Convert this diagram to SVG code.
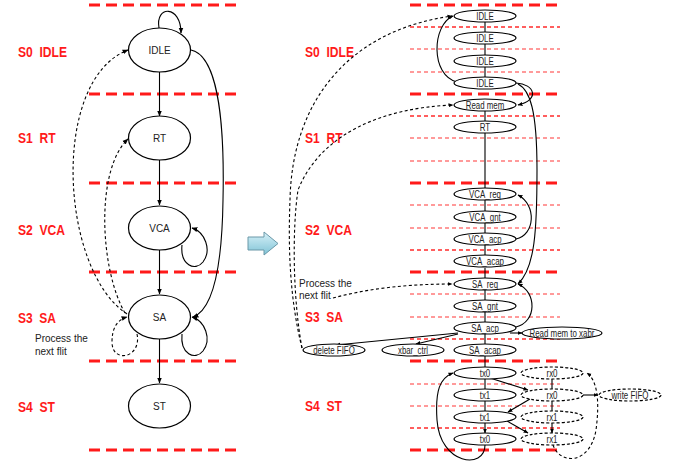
<svg xmlns="http://www.w3.org/2000/svg" width="674" height="462" viewBox="0 0 674 462">
<defs>
<marker id="ah" viewBox="0 0 10 10" refX="9" refY="5" markerWidth="6" markerHeight="6" orient="auto" markerUnits="userSpaceOnUse"><path d="M0,1 L10,5 L0,9 z" fill="#000"/></marker>
<marker id="as" viewBox="0 0 10 10" refX="9" refY="5" markerWidth="5" markerHeight="5" orient="auto" markerUnits="userSpaceOnUse"><path d="M0,1 L10,5 L0,9 z" fill="#000"/></marker>
<linearGradient id="bg" x1="0" y1="0" x2="0" y2="1"><stop offset="0" stop-color="#d8f1f8"/><stop offset="1" stop-color="#7fc3d6"/></linearGradient>
</defs>
<style>
.thick{stroke:#ff1a1a;stroke-width:3;stroke-dasharray:11 6;fill:none}
.thinr{stroke:#ff2a2a;stroke-width:1.3;stroke-dasharray:4 3;fill:none}
.thinp{stroke:#ff7a7a;stroke-width:1.3;stroke-dasharray:4 3;fill:none}
.lab{font-family:"Liberation Sans",Arial,sans-serif;font-size:14px;font-weight:bold;fill:#ff1a1a;white-space:pre}
.big{fill:#fff;stroke:#000;stroke-width:1.2}
.bt{font-family:"Liberation Sans",Arial,sans-serif;font-size:10px;fill:#222;text-anchor:middle}
.sm{fill:#fff;stroke:#000;stroke-width:1.2}
.smd{fill:#fff;stroke:#000;stroke-width:1.2;stroke-dasharray:3 2}
.st{font-family:"Liberation Sans",Arial,sans-serif;font-size:10px;fill:#222;text-anchor:middle}
.note{font-family:"Liberation Sans",Arial,sans-serif;font-size:10px;fill:#222}
.cl{fill:none;stroke:#000;stroke-width:1.1;marker-end:url(#ah)}
.cs{fill:none;stroke:#000;stroke-width:1.1;marker-end:url(#as)}
.dl{fill:none;stroke:#000;stroke-width:1.1;stroke-dasharray:3 2.5;marker-end:url(#ah)}
.ds{fill:none;stroke:#000;stroke-width:1.1;stroke-dasharray:3 2.5;marker-end:url(#as)}
</style>
<rect width="674" height="462" fill="#fff"/>

<g id="stage-lines">
<path class="thick" d="M89,5H240M89,94H240M89,183H240M89,272H240M89,361H240M89,450H240"/>
<path class="thick" d="M410,5H560M410,94H560M410,183H560M410,272H560M410,361H560M410,450H560"/>
<path class="thinr" d="M410,27H560M410,116H560M410,250H560M410,339H560M410,428H560"/>
<path class="thinp" d="M410,49H560M410,72H560M410,138H560M410,161H560M410,205H560M410,228H560M410,294H560M410,317H560M410,384H560M410,406H560"/>
</g>

<g id="stage-labels">
<text class="lab" x="18" y="57" xml:space="preserve" textLength="49" lengthAdjust="spacingAndGlyphs">S0  IDLE</text>
<text class="lab" x="18" y="143" xml:space="preserve" textLength="37.5" lengthAdjust="spacingAndGlyphs">S1  RT</text>
<text class="lab" x="18" y="235" xml:space="preserve" textLength="47" lengthAdjust="spacingAndGlyphs">S2  VCA</text>
<text class="lab" x="18" y="323" xml:space="preserve" textLength="38" lengthAdjust="spacingAndGlyphs">S3  SA</text>
<text class="lab" x="18" y="412" xml:space="preserve" textLength="37" lengthAdjust="spacingAndGlyphs">S4  ST</text>
<text class="lab" x="305" y="57" xml:space="preserve" textLength="49" lengthAdjust="spacingAndGlyphs">S0  IDLE</text>
<text class="lab" x="305" y="143" xml:space="preserve" textLength="37.5" lengthAdjust="spacingAndGlyphs">S1  RT</text>
<text class="lab" x="305" y="235" xml:space="preserve" textLength="47" lengthAdjust="spacingAndGlyphs">S2  VCA</text>
<text class="lab" x="305" y="322" xml:space="preserve" textLength="38" lengthAdjust="spacingAndGlyphs">S3  SA</text>
<text class="lab" x="305" y="411" xml:space="preserve" textLength="37" lengthAdjust="spacingAndGlyphs">S4  ST</text>
</g>

<g id="connectors">
<path class="cl" d="M159,28 C155,5 181,5 181,33"/>
<path class="cl" d="M159.5,72 L159.5,116"/>
<path class="cl" d="M159.5,160 L159.5,205"/>
<path class="cl" d="M159.5,250 L159.5,294"/>
<path class="cl" d="M159.5,339 L159.5,383"/>
<path class="cl" d="M182,245 C180,265 195,272 203,262 C212,250 205,232 192,228"/>
<path class="cl" d="M182,334 C180,354 195,361 203,351 C212,339 205,321 192,317"/>
<path class="cl" d="M191,50 C215,55 225,110 223,200 C222,270 212,310 193,317"/>
<path class="dl" d="M127,314 C60,270 50,80 128,50"/>
<path class="dl" d="M125,313 C100,270 95,170 128,139"/>
<path class="dl" d="M137,334 C142,358 112,364 112,342 C112,328 117,320 127,317"/>
<path class="cs" d="M485,22 L485,32M485,44 L485,55M485,67 L485,77M485,111 L485,121M485,133 L485,188M485,200 L485,211M485,223 L485,233M485,245 L485,255M485,268 L485,278M485,290 L485,300M485,312 L485,322M485,334 L485,344M485,356 L485,367M485,379 L485,389M485,401 L485,411M485,423 L485,433"/>
<path class="cs" d="M552,379 L552,389M552,401 L552,411M552,423 L552,433"/>
<path class="cs" d="M457,82 C430,75 432,25 453,16"/>
<path class="cs" d="M516,83 C535,84 540,100 518,105"/>
<path class="cs" d="M518,84 C530,90 537,110 537,170 C537,230 535,268 518,284"/>
<path class="cs" d="M516,239 C535,235 537,205 518,195"/>
<path class="cs" d="M516,327 C537,322 537,292 518,284"/>
<path class="cs" d="M458,333 L336,345"/>
<path class="cs" d="M458,334 L416,344"/>
<path class="cs" d="M510,333 L522,333"/>
<path class="ds" d="M333,298 C370,288 410,284 452,284"/>
<path class="ds" d="M302,348 C290,300 288,250 290,200 C292,100 350,30 452,16"/>
<path class="ds" d="M302,348 C293,300 292,230 298,190 C320,135 380,108 453,105"/>
<path class="cs" d="M490,378 L528,390"/>
<path class="cs" d="M530,399 L508,412"/>
<path class="cs" d="M507,421 L528,433"/>
<path class="cs" d="M583,395 L598,395" stroke-width="1.6"/>
<path class="ds" d="M553,445 C560,465 590,465 596,430 C600,400 597,380 587,373"/>
<path class="cs" d="M485,445 C485,470 440,465 437,420 C435,390 440,378 453,373"/>
</g>

<g id="n-idle"><ellipse class="big" cx="159.5" cy="50" rx="31" ry="22"/><text class="bt" x="159.5" y="53.5">IDLE</text></g>
<g id="n-rt"><ellipse class="big" cx="159.5" cy="138" rx="31" ry="22"/><text class="bt" x="159.5" y="141.5">RT</text></g>
<g id="n-vca"><ellipse class="big" cx="159.5" cy="228" rx="31" ry="22"/><text class="bt" x="159.5" y="231.5">VCA</text></g>
<g id="n-sa"><ellipse class="big" cx="159.5" cy="317" rx="31" ry="22"/><text class="bt" x="159.5" y="320.5">SA</text></g>
<g id="n-st"><ellipse class="big" cx="159.5" cy="406" rx="31" ry="22"/><text class="bt" x="159.5" y="409.5">ST</text></g>
<g id="note-left"><text class="note" x="35" y="342">Process the</text><text class="note" x="35" y="355">next flit</text></g>

<g id="transition-arrow"><path d="M248,237 L264,237 L264,232 L278,243.5 L264,255 L264,250 L248,250 Z" fill="url(#bg)" stroke="#6a98a8" stroke-width="1"/></g>

<g id="r-idle1"><ellipse class="sm" cx="485" cy="16" rx="31" ry="6"/><text class="st" x="485" y="19.5" textLength="17.5" lengthAdjust="spacingAndGlyphs">IDLE</text></g>
<g id="r-idle2"><ellipse class="sm" cx="485" cy="38" rx="31" ry="6"/><text class="st" x="485" y="41.5" textLength="17.5" lengthAdjust="spacingAndGlyphs">IDLE</text></g>
<g id="r-idle3"><ellipse class="sm" cx="485" cy="61" rx="31" ry="6"/><text class="st" x="485" y="64.5" textLength="17.5" lengthAdjust="spacingAndGlyphs">IDLE</text></g>
<g id="r-idle4"><ellipse class="sm" cx="485" cy="83" rx="31" ry="6"/><text class="st" x="485" y="86.5" textLength="17.5" lengthAdjust="spacingAndGlyphs">IDLE</text></g>
<g id="r-readmem"><ellipse class="sm" cx="485" cy="105" rx="31" ry="6"/><text class="st" x="485" y="108.5" textLength="38.5" lengthAdjust="spacingAndGlyphs">Read mem</text></g>
<g id="r-rt"><ellipse class="sm" cx="485" cy="127" rx="31" ry="6"/><text class="st" x="485" y="130.5" textLength="10.5" lengthAdjust="spacingAndGlyphs">RT</text></g>
<g id="r-vcareq"><ellipse class="sm" cx="485" cy="194" rx="31" ry="6"/><text class="st" x="485" y="197.5" textLength="32" lengthAdjust="spacingAndGlyphs">VCA_req</text></g>
<g id="r-vcagnt"><ellipse class="sm" cx="485" cy="217" rx="31" ry="6"/><text class="st" x="485" y="220.5" textLength="31.5" lengthAdjust="spacingAndGlyphs">VCA_gnt</text></g>
<g id="r-vcaacp"><ellipse class="sm" cx="485" cy="239" rx="31" ry="6"/><text class="st" x="485" y="242.5" textLength="33" lengthAdjust="spacingAndGlyphs">VCA_acp</text></g>
<g id="r-vcaacap"><ellipse class="sm" cx="485" cy="261" rx="31" ry="6"/><text class="st" x="485" y="264.5" textLength="38" lengthAdjust="spacingAndGlyphs">VCA_acap</text></g>
<g id="r-sareq"><ellipse class="sm" cx="485" cy="284" rx="31" ry="6"/><text class="st" x="485" y="287.5" textLength="26" lengthAdjust="spacingAndGlyphs">SA_req</text></g>
<g id="r-sagnt"><ellipse class="sm" cx="485" cy="306" rx="31" ry="6"/><text class="st" x="485" y="309.5" textLength="26" lengthAdjust="spacingAndGlyphs">SA_gnt</text></g>
<g id="r-saacp"><ellipse class="sm" cx="485" cy="328" rx="31" ry="6"/><text class="st" x="485" y="331.5" textLength="27.5" lengthAdjust="spacingAndGlyphs">SA_acp</text></g>
<g id="r-saacap"><ellipse class="sm" cx="485" cy="350" rx="31" ry="6"/><text class="st" x="485" y="353.5" textLength="32" lengthAdjust="spacingAndGlyphs">SA_acap</text></g>
<g id="r-readxabr"><ellipse class="sm" cx="562" cy="333" rx="40" ry="6"/><text class="st" x="562" y="336.5" textLength="65" lengthAdjust="spacingAndGlyphs">Read mem to xabr</text></g>
<g id="r-delfifo"><ellipse class="sm" cx="334" cy="350" rx="31" ry="6"/><text class="st" x="334" y="353.5" textLength="41.5" lengthAdjust="spacingAndGlyphs">delete FIFO</text></g>
<g id="r-xbar"><ellipse class="sm" cx="413" cy="350" rx="31" ry="6"/><text class="st" x="413" y="353.5" textLength="30" lengthAdjust="spacingAndGlyphs">xbar_ctrl</text></g>
<g id="r-tx0a"><ellipse class="sm" cx="485" cy="373" rx="31" ry="6"/><text class="st" x="485" y="376.5" textLength="10.5" lengthAdjust="spacingAndGlyphs">tx0</text></g>
<g id="r-tx1a"><ellipse class="sm" cx="485" cy="395" rx="31" ry="6"/><text class="st" x="485" y="398.5" textLength="10.5" lengthAdjust="spacingAndGlyphs">tx1</text></g>
<g id="r-tx1b"><ellipse class="sm" cx="485" cy="417" rx="31" ry="6"/><text class="st" x="485" y="420.5" textLength="10.5" lengthAdjust="spacingAndGlyphs">tx1</text></g>
<g id="r-tx0b"><ellipse class="sm" cx="485" cy="439" rx="31" ry="6"/><text class="st" x="485" y="442.5" textLength="10.5" lengthAdjust="spacingAndGlyphs">tx0</text></g>
<g id="r-rx0a"><ellipse class="smd" cx="552" cy="373" rx="31" ry="6"/><text class="st" x="552" y="376.5" textLength="11" lengthAdjust="spacingAndGlyphs">rx0</text></g>
<g id="r-rx0b"><ellipse class="smd" cx="552" cy="395" rx="31" ry="6"/><text class="st" x="552" y="398.5" textLength="11" lengthAdjust="spacingAndGlyphs">rx0</text></g>
<g id="r-rx1a"><ellipse class="smd" cx="552" cy="417" rx="31" ry="6"/><text class="st" x="552" y="420.5" textLength="11" lengthAdjust="spacingAndGlyphs">rx1</text></g>
<g id="r-rx1b"><ellipse class="smd" cx="552" cy="439" rx="31" ry="6"/><text class="st" x="552" y="442.5" textLength="11" lengthAdjust="spacingAndGlyphs">rx1</text></g>
<g id="r-writefifo"><ellipse class="smd" cx="630" cy="395" rx="31" ry="6"/><text class="st" x="630" y="398.5" textLength="37" lengthAdjust="spacingAndGlyphs">write FIFO</text></g>
<g id="note-right"><text class="note" x="299" y="287">Process the</text><text class="note" x="299" y="299">next flit</text></g>
</svg>
